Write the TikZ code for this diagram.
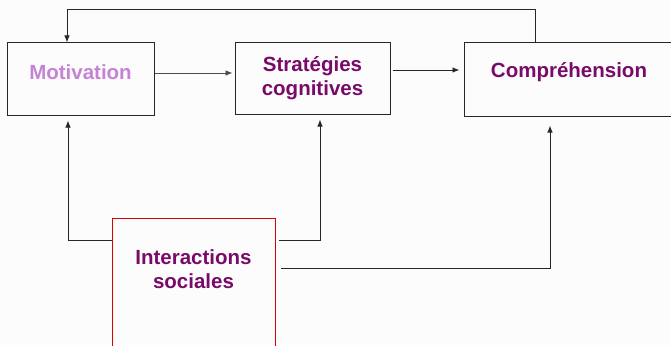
\documentclass[tikz,border=0pt]{standalone}
\usepackage{fontspec}
\setmainfont{Liberation Sans}
\usetikzlibrary{arrows.meta}
\definecolor{darkpur}{HTML}{7A0A6A}
\definecolor{lightpur}{HTML}{C483D4}
\begin{document}
\begin{tikzpicture}[x=1pt,y=-1pt,
  boxn/.style={draw=black!85,line width=1pt,minimum width=#1,inner sep=0pt},
  lbl/.style={font=\bfseries\fontsize{20.5}{24}\selectfont,align=center,text=darkpur},
  conn/.style={draw=black!85,line width=0.95pt},
  arr/.style={conn,-{Latex[length=7pt,width=5.5pt]}}]
\fill[white!99!black] (0,0) rectangle (671,345);
\useasboundingbox (0,0) rectangle (671,345);
% boxes
\node[boxn=147pt,minimum height=72pt] (mb) at (80.5,79) {};
\node[boxn=155pt,minimum height=71pt] (sb) at (312.5,78.5) {};
\node[boxn=210pt,minimum height=73pt] (cb) at (569,79.5) {};
\node[draw=red!85!black,line width=0.8pt,minimum width=163pt,minimum height=132pt,inner sep=0pt] (ib) at (193.5,284) {};
% texts
\node[lbl,text=lightpur] (mt) at (80.5,72) {Motivation};
\node[lbl] (st) at (312.5,78) {Stratégies\\cognitives};
\node[lbl] (ct) at (569,72) {Compréhension};
\node[lbl] (it) at (193.5,269) {Interactions\\sociales};
% coordinates
\coordinate (f1) at (535,9);
\coordinate (f2) at (67,9);
\coordinate (l1) at (112,240);
\coordinate (l2) at (68,240);
\coordinate (r1) at (279,240);
\coordinate (r2) at (320,240);
\coordinate (b1) at (281,268);
\coordinate (b2) at (550,268);
% connectors
\draw[arr] (cb.north -| f1) -- (f1) -- (f2) -- (mb.north -| f2);
\draw[arr,line width=0.7pt,draw=black!70] (mb.east |- 0,73) -- ([xshift=-2pt]sb.west |- 0,73);
\draw[arr] ([xshift=2pt]sb.east |- 0,70) -- ([xshift=-4pt]cb.west |- 0,70);
\draw[arr] (l1) -- (l2) -- ([yshift=-5pt]mb.south -| l2);
\draw[arr] (r1) -- (r2) -- ([yshift=-5pt]sb.south -| r2);
\draw[arr] (b1) -- (b2) -- ([yshift=-9pt]cb.south -| b2);
\end{tikzpicture}
\end{document}
